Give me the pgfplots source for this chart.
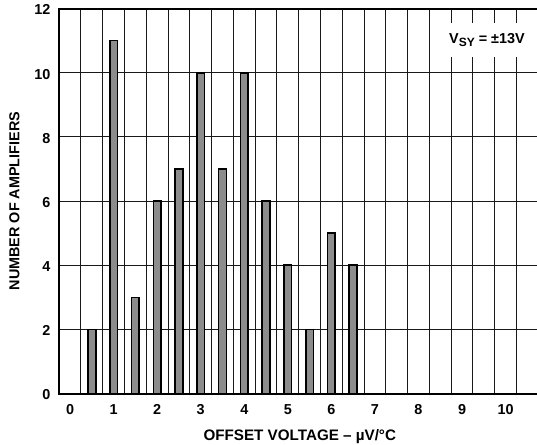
\documentclass[border=0pt]{standalone}
\usepackage{pgfplots}
\pgfplotsset{compat=1.18}
\usepackage{fontspec}
\setmainfont{Liberation Sans}
\definecolor{barfill}{HTML}{8C8C8C}
\newcommand{\lbl}{\fontsize{10.8}{13}\selectfont\bfseries}
\newcommand{\xlbl}{\fontsize{11.4}{13}\selectfont\bfseries}
\begin{document}
\begin{tikzpicture}
\begin{axis}[
  at={(44.4pt,37.8pt)}, anchor=south west,
  scale only axis,
  width=360.9pt, height=288.8pt,
  xmin=-0.25, xmax=10.8,
  ymin=0, ymax=12,
  xtick={0,1,2,3,4,5,6,7,8,9,10},
  ytick={0,2,4,6,8,10,12},
  minor xtick={0.25,0.75,1.25,1.75,2.25,2.75,3.25,3.75,4.25,4.75,5.25,5.75,6.25,6.75,7.25,7.75,8.25,8.75,9.25,9.75,10.25,10.75},
  major tick length=0pt, minor tick length=0pt,
  xmajorgrids=false, xminorgrids=true, ymajorgrids=true,
  grid style={black!90, line width=0.75pt},
  minor grid style={black!90, line width=0.75pt},
  axis line style={black, line width=1.5pt},
  /pgf/number format/assume math mode=true,
  tick label style={font=\lbl},
  xticklabel style={anchor=north, inner sep=0pt},
  xticklabel shift=8.2pt,
  yticklabel style={anchor=east, inner sep=0pt, yshift=-1pt},
  yticklabel shift=6.4pt,
  xlabel={OFFSET VOLTAGE -- µV/°C},
  ylabel={NUMBER OF AMPLIFIERS},
  xlabel style={font=\xlbl, at={(axis description cs:0.5,-0.1229)}, anchor=base, inner sep=0pt},
  ylabel style={font=\lbl, at={(axis description cs:-0.0928,0.5)}, anchor=center, inner sep=0pt},
  ybar, bar width=5.8pt,
  clip=false,
]
\addplot[draw=black, line width=1.2pt, fill=barfill] coordinates {
  (0.5,2) (1,11) (1.5,3) (2,6) (2.5,7) (3,10) (3.5,7) (4,10) (4.5,6) (5,4) (5.5,2) (6,5) (6.5,4)
};
\node[fill=white, minimum width=72pt, minimum height=25.5pt, inner sep=0pt, font=\lbl]
  at (rel axis cs:0.889,0.918) {V\raisebox{-2.5pt}{\fontsize{9}{10}\selectfont\bfseries SY} = ±13V};
\end{axis}
\pgfresetboundingbox
\path (0,0) rectangle (402.75pt,333pt);
\end{tikzpicture}
\end{document}
